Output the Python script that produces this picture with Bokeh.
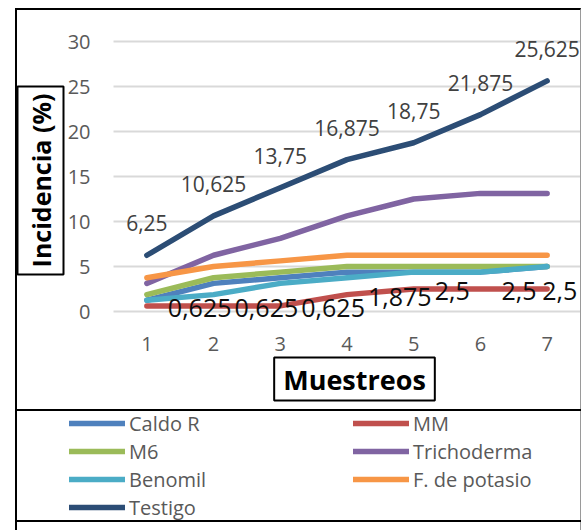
import math
from bokeh.plotting import figure
from bokeh.models import (ColumnDataSource, Range1d, FixedTicker, Legend, LegendItem,
                          Label, InlineStyleSheet)
from bokeh.core.properties import value
from bokeh.embed import file_html
from bokeh.resources import INLINE

# ---------------- data ----------------
muestreos = [1, 2, 3, 4, 5, 6, 7]
caldo_r = [1.25, 3.125, 3.75, 4.375, 4.375, 4.375, 5.0]
mm = [0.625, 0.625, 0.625, 1.875, 2.5, 2.5, 2.5]
m6 = [1.875, 3.75, 4.375, 5.0, 5.0, 5.0, 5.0]
trichoderma = [3.125, 6.25, 8.125, 10.625, 12.5, 13.125, 13.125]
benomil = [1.25, 1.875, 3.125, 3.75, 4.375, 4.375, 5.0]
f_potasio = [3.75, 5.0, 5.625, 6.25, 6.25, 6.25, 6.25]
testigo = [6.25, 10.625, 13.75, 16.875, 18.75, 21.875, 25.625]
y_ticks = [0, 5, 10, 15, 20, 25, 30]

series_names = ["Caldo R", "MM", "M6", "Trichoderma", "Benomil", "F. de potasio", "Testigo"]
series_values = [caldo_r, mm, m6, trichoderma, benomil, f_potasio, testigo]
series_colors = ["#4F81BD", "#C0504D", "#9BBB59", "#8064A2", "#4BACC6", "#F79646", "#2C4D75"]

FONT = "Open Sans"


def fmt(v):
    return f"{v:g}".replace(".", ",")


# ---------------- layout (pixels) ----------------
W, H = 582, 530
plot_left, plot_right = 113, 580          # pixel extent of the category axis (0.5 .. 7.5)
zero_px, px_per_unit = 311, 9.0           # pixel row of y = 0 and pixels per percent
x_lo, x_hi = muestreos[0] - 0.5, muestreos[-1] + 0.5
px_per_cat = (plot_right - plot_left) / (x_hi - x_lo)
x_range = Range1d(x_lo - plot_left / px_per_cat, x_hi + (W - plot_right) / px_per_cat)
y_range = Range1d(-(H - zero_px) / px_per_unit, zero_px / px_per_unit)
y_axis_floor = -1.5

border_css = """
:host { position: relative; }
:host::before {
  content: ""; position: absolute; left: 15px; top: 8px; width: 566px; height: 522px;
  box-sizing: border-box; border-left: 2.5px solid #000; border-top: 2.5px solid #000;
  border-right: 1.5px solid #9a9a9a; pointer-events: none; z-index: 10;
}
:host::after {
  content: ""; position: absolute; left: 15px; top: 409px; width: 566px; height: 113px;
  box-sizing: border-box; border-top: 2.5px solid #000; border-bottom: 2.5px solid #000;
  pointer-events: none; z-index: 10;
}
"""

p = figure(width=W, height=H, x_range=x_range, y_range=y_range,
           output_backend="svg", toolbar_location=None, min_border=0)
p.stylesheets = [InlineStyleSheet(css=border_css)]
p.outline_line_color = None
p.background_fill_color = "white"
p.border_fill_color = "white"
p.xgrid.visible = False
p.ygrid.visible = False

p.yaxis.ticker = FixedTicker(ticks=y_ticks)
p.xaxis.ticker = FixedTicker(ticks=muestreos)
p.xaxis.fixed_location = y_axis_floor
p.yaxis.fixed_location = x_lo

for ax in (p.xaxis[0], p.yaxis[0]):
    ax.axis_line_color = None
    ax.major_tick_line_color = None
    ax.minor_tick_line_color = None
    ax.major_tick_out = 0
    ax.major_tick_in = 0
    ax.major_label_text_font = FONT
    ax.major_label_text_font_size = "20px"
    ax.major_label_text_color = "#595959"
p.yaxis.major_label_standoff = 23
p.xaxis.major_label_standoff = 12

# horizontal gridlines across the category extent
g_src = ColumnDataSource(dict(y=y_ticks, x0=[x_lo] * len(y_ticks), x1=[x_hi] * len(y_ticks)))
p.segment(x0="x0", x1="x1", y0="y", y1="y", source=g_src, line_color="#D9D9D9", line_width=2)

renderers = {}
for name, vals, col in zip(series_names, series_values, series_colors):
    src = ColumnDataSource(dict(x=muestreos, y=vals))
    r = p.line("x", "y", source=src, line_color=col, line_width=5.5,
               line_cap="round", line_join="round")
    renderers[name] = r

# data labels: Testigo (above)
t_src = ColumnDataSource(dict(x=muestreos, y=testigo, t=[fmt(v) for v in testigo]))
p.text("x", "y", text="t", source=t_src, text_font=value(FONT), text_font_size="21px",
       text_color="#404040", text_align="center", text_baseline="middle", y_offset=-32)

# data labels: MM (right)
mm_xoff = [21 if i < len(mm) - 1 else -5 for i in range(len(mm))]
m_src = ColumnDataSource(dict(x=muestreos, y=mm, t=[fmt(v) for v in mm], xo=mm_xoff))
p.text("x", "y", text="t", source=m_src, text_font=value(FONT), text_font_size="25px",
       text_color="#0D0D0D", text_align="left", text_baseline="middle",
       x_offset="xo", y_offset=2)

# axis titles (boxed)
ytitle = Label(x=40, y=180, x_units="canvas", y_units="canvas", text="Incidencia (%)",
               angle=math.pi / 2, text_align="center", text_baseline="middle",
               text_font=FONT, text_font_size="25px", text_font_style="bold",
               text_color="#000000", border_line_color="black", border_line_width=2,
               background_fill_color="white", padding=(7, 6))
xtitle = Label(x=354, y=378.5, x_units="canvas", y_units="canvas", text="Muestreos",
               text_align="center", text_baseline="middle",
               text_font=FONT, text_font_size="27px", text_font_style="bold",
               text_color="#000000", border_line_color="black", border_line_width=2,
               background_fill_color="white", padding=(9, 3))
p.add_layout(ytitle)
p.add_layout(xtitle)

# legend (2 columns, row-major)
legend_order = ["Caldo R", "MM", "M6", "Trichoderma", "Benomil", "F. de potasio", "Testigo"]
lg = Legend(items=[LegendItem(label=n, renderers=[renderers[n]]) for n in legend_order],
            orientation="horizontal", ncols=2, location=(69, 9))
lg.label_text_font = FONT
lg.label_text_font_size = "20px"
lg.label_text_color = "#595959"
lg.label_text_baseline = "middle"
lg.glyph_width = 56
lg.glyph_height = 28
lg.label_height = 28
lg.label_width = 224
lg.label_standoff = 4
lg.spacing = 0
lg.padding = 0
lg.margin = 0
lg.border_line_color = None
lg.background_fill_alpha = 0
p.add_layout(lg, "center")

open("out.html", "w").write(file_html(p, INLINE))
